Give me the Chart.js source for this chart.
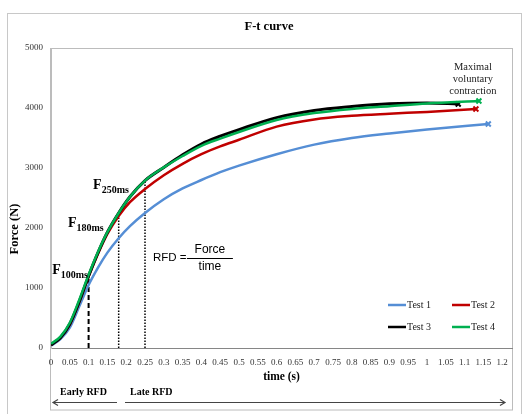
<!DOCTYPE html>
<html>
<head>
<meta charset="utf-8">
<script src="https://cdn.jsdelivr.net/npm/chart.js@4"></script>
<style>
  body { margin: 0; background: #fff; }
  canvas { display: block; }
</style>
</head>
<body>
<canvas id="ftChart" width="522" height="414"></canvas>
<script>
// F-t curve data
const times = [0, 0.025, 0.05, 0.075, 0.1, 0.125, 0.15, 0.18, 0.21, 0.25, 0.3, 0.35, 0.4, 0.45, 0.5, 0.6, 0.7, 0.8, 0.9, 1.0];
const test1 = [40, 150, 340, 690, 1050, 1340, 1590, 1830, 2030, 2250, 2480, 2660, 2800, 2930, 3040, 3230, 3390, 3500, 3575, 3640];
const test2 = [50, 170, 390, 760, 1190, 1570, 1900, 2200, 2430, 2650, 2880, 3070, 3230, 3360, 3470, 3690, 3810, 3870, 3905, 3935];
const test3 = [50, 170, 400, 770, 1200, 1590, 1930, 2250, 2520, 2790, 3010, 3220, 3400, 3530, 3640, 3840, 3960, 4025, 4070, 4085];
const test4 = [70, 190, 420, 800, 1220, 1600, 1930, 2250, 2520, 2790, 3010, 3200, 3370, 3490, 3600, 3800, 3915, 3985, 4030, 4075];
// maximal voluntary contraction end points (Test 1..4)
const endTimes = [1.163, 1.13, 1.083, 1.138];
const endForces = [3733, 3983, 4067, 4117];
// RFD reference lines
const markTimes = [0.1, 0.18, 0.25];
const markForces = [1217, 2200, 2790];
const markNames = ['100ms', '180ms', '250ms'];

const seriesNames = ['Test 1', 'Test 2', 'Test 3', 'Test 4'];
const seriesColors = ['#558ED5', '#C00000', '#000000', '#00B050'];
const xTicks = [0, 0.05, 0.1, 0.15, 0.2, 0.25, 0.3, 0.35, 0.4, 0.45, 0.5, 0.55, 0.6, 0.65, 0.7, 0.75, 0.8, 0.85, 0.9, 0.95, 1, 1.05, 1.1, 1.15, 1.2];
const yTicks = [0, 1000, 2000, 3000, 4000, 5000];

const serif = '"Liberation Serif", "DejaVu Serif", serif';
const sans = '"Liberation Sans", Arial, sans-serif';

function curve(values, i) {
    const pts = times.map((t, k) => ({ x: t, y: values[k] }));
    pts.push({ x: endTimes[i], y: endForces[i] });
    const last = pts.length - 1;
    return {
        label: seriesNames[i],
        data: pts,
        borderColor: seriesColors[i],
        backgroundColor: seriesColors[i],
        borderWidth: i === 2 ? 3 : 2.5,
        cubicInterpolationMode: 'monotone',
        pointStyle: 'crossRot',
        pointRadius: ctx => ctx.dataIndex === last ? 3.5 : 0,
        pointBorderWidth: 2,
        order: 3 - i
    };
}

function markLine(k) {
    return {
        label: 'mark' + k,
        data: [{ x: markTimes[k], y: 0 }, { x: markTimes[k], y: markForces[k] }],
        borderColor: '#000',
        borderWidth: k === 0 ? 2 : 1.5,
        borderDash: k === 0 ? [5, 3] : [1.5, 1.5],
        pointRadius: 0,
        order: 10
    };
}

const framePlugin = {
    id: 'frame',
    beforeDraw(chart) {
        const c = chart.ctx;
        const a = chart.chartArea;
        c.save();
        c.fillStyle = '#fff';
        c.fillRect(0, 0, chart.width, chart.height);
        c.strokeStyle = '#c8c8c8';
        c.lineWidth = 1;
        c.strokeRect(7.5, 13.5, 514, 420);
        c.strokeStyle = '#bcbcbc';
        c.strokeRect(a.left - 0.5, a.top + 0.5, a.right - a.left + 1, 409.5 - a.top);
        c.restore();
    },
    afterDraw(chart) {
        const c = chart.ctx;
        const a = chart.chartArea;
        const xs = chart.scales.x, ys = chart.scales.y;
        c.save();
        c.fillStyle = '#000';
        c.textBaseline = 'middle';

        // title
        c.textAlign = 'center';
        c.font = 'bold 12.5px ' + serif;
        c.fillText('F-t curve', 269, 27);

        // axis titles
        c.font = 'bold 11.5px ' + serif;
        c.fillText('time (s)', (a.left + a.right) / 2, 377);
        c.save();
        c.translate(15, 229);
        c.rotate(-Math.PI / 2);
        c.font = 'bold 12.5px ' + serif;
        c.fillText('Force (N)', 0, 0);
        c.restore();

        // F labels
        const fPos = [[0.003, 1300], [0.045, 2083], [0.112, 2717]];
        c.textAlign = 'left';
        fPos.forEach((p, k) => {
            const px = xs.getPixelForValue(p[0]);
            const py = ys.getPixelForValue(p[1]);
            c.font = 'bold 14px ' + serif;
            c.fillText('F', px, py);
            const w = c.measureText('F').width;
            c.font = 'bold 10px ' + serif;
            c.fillText(markNames[k], px + w, py + 5);
        });

        // RFD = Force / time
        const rx = xs.getPixelForValue(0.271);
        const ry = ys.getPixelForValue(1500);
        c.font = '11.5px ' + sans;
        c.fillText('RFD =', rx, ry);
        c.beginPath();
        c.moveTo(rx + 34, ry + 0.5);
        c.lineTo(rx + 80, ry + 0.5);
        c.lineWidth = 1;
        c.strokeStyle = '#000';
        c.stroke();
        c.textAlign = 'center';
        c.font = '12px ' + sans;
        c.fillText('Force', rx + 57, ry - 8);
        c.fillText('time', rx + 57, ry + 9);

        // maximal voluntary contraction
        c.font = '10.5px ' + serif;
        c.fillStyle = '#222';
        const mx = xs.getPixelForValue(1.122);
        ['Maximal', 'voluntary', 'contraction'].forEach((s, k) => {
            c.fillText(s, mx, 67 + k * 12);
        });

        // legend
        const legPos = [[388, 305], [452, 305], [388, 327], [452, 327]];
        c.textAlign = 'left';
        c.font = '10px ' + serif;
        c.fillStyle = '#222';
        legPos.forEach((p, i) => {
            c.beginPath();
            c.moveTo(p[0], p[1]);
            c.lineTo(p[0] + 18, p[1]);
            c.strokeStyle = seriesColors[i];
            c.lineWidth = 2.5;
            c.stroke();
            c.fillText(seriesNames[i], p[0] + 19, p[1] + 0.5);
        });

        // early / late RFD
        c.fillStyle = '#000';
        c.font = 'bold 10px ' + serif;
        c.fillText('Early RFD', 60, 392);
        c.fillText('Late RFD', 130, 392);
        c.strokeStyle = '#444';
        c.lineWidth = 1.2;
        c.beginPath();
        c.moveTo(117, 402.5); c.lineTo(53, 402.5);
        c.moveTo(58, 399.5); c.lineTo(53, 402.5); c.lineTo(58, 405.5);
        c.moveTo(125, 402.5); c.lineTo(505, 402.5);
        c.moveTo(500, 399.5); c.lineTo(505, 402.5); c.lineTo(500, 405.5);
        c.stroke();
        c.restore();
    }
};

new Chart(document.getElementById('ftChart'), {
    type: 'line',
    data: {
        datasets: [
            curve(test1, 0), curve(test2, 1), curve(test3, 2), curve(test4, 3),
            markLine(0), markLine(1), markLine(2)
        ]
    },
    options: {
        responsive: false,
        devicePixelRatio: 1,
        animation: false,
        events: [],
        layout: { padding: { top: 48, right: 10, left: 0, bottom: 0 } },
        plugins: { legend: { display: false }, title: { display: false }, tooltip: { enabled: false } },
        scales: {
            x: {
                type: 'linear',
                min: 0,
                max: 1.226,
                afterFit: s => { s.height = 66; },
                afterBuildTicks: s => { s.ticks = xTicks.map(v => ({ value: v })); },
                grid: { display: false, drawTicks: false },
                border: { display: true, color: '#868686', width: 1 },
                ticks: {
                    autoSkip: false,
                    maxRotation: 0,
                    padding: 9,
                    color: '#333',
                    font: { family: serif, size: 9 },
                    callback: v => String(v)
                }
            },
            y: {
                min: 0,
                max: 5000,
                afterFit: s => { s.width = 51; },
                afterBuildTicks: s => { s.ticks = yTicks.map(v => ({ value: v })); },
                grid: { display: false, drawTicks: false },
                border: { display: true, color: '#bcbcbc', width: 1 },
                ticks: {
                    padding: 8,
                    color: '#333',
                    font: { family: serif, size: 9 },
                    callback: v => String(v)
                }
            }
        }
    },
    plugins: [framePlugin]
});
</script>
</body>
</html>
